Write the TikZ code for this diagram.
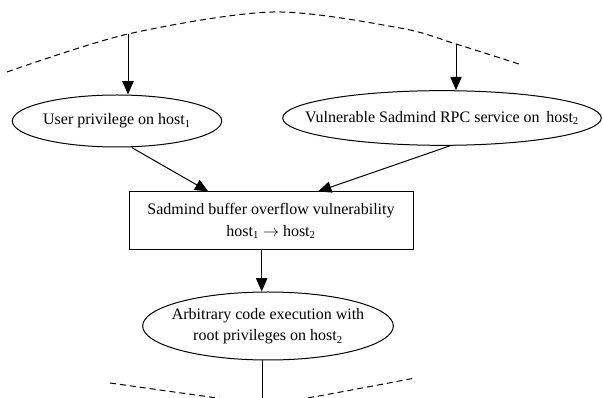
\documentclass[tikz,border=0pt]{standalone}
\usepackage{fontspec}
\setmainfont{Liberation Serif}
\usetikzlibrary{shapes.geometric,arrows.meta,calc}

\tikzset{
  state/.style={ellipse, draw, inner sep=0pt},
  exploit/.style={rectangle, draw, align=center, inner sep=0pt,
                  minimum width=213pt, minimum height=43.5pt},
  cutline/.style={dash pattern=on 4.5pt off 3pt},
}
\newcommand{\inbox}[1]{\makebox[0pt]{#1}}

\begin{document}
\begin{tikzpicture}[x=0.75pt, y=-0.75pt, >={Triangle[length=10pt,width=8.5pt]},
                    line width=0.75pt, font=\fontsize{12}{16}\selectfont]
  \useasboundingbox (0,0) rectangle (603,398);
  \clip (0,0) rectangle (603,398);

  % Cut of the graph above
  \draw[cutline] plot[smooth] coordinates
        {(7,72) (128,34) (273,12) (400,28) (456,44) (522,65)};
  \coordinate (up1) at (128,34);
  \coordinate (up2) at (456,44);

  % Pre-conditions
  \node[state, minimum width=157pt, minimum height=39pt] (user) at (117,121)
        {\inbox{User privilege on host\textsubscript{1}}};
  \node[state, minimum width=239pt, minimum height=41pt] (rpc) at (442,118)
        {\inbox{Vulnerable Sadmind RPC service on\, host\textsubscript{2}}};

  % Exploit
  \node[exploit] (bof) at (271,221)
        {Sadmind buffer overflow vulnerability\\
         host\textsubscript{1} $\rightarrow$ host\textsubscript{2}};

  % Post-condition
  \node[state, minimum width=188pt, minimum height=51pt] (root) at (268,326)
        {\inbox{\begin{tabular}{@{}c@{}}Arbitrary code execution with\\
         root privileges on host\textsubscript{2}\end{tabular}}};

  % Cut of the graph below
  \draw[cutline] plot[smooth] coordinates
        {(110,383) (210,397) (262,404) (313,397) (415,378)};
  \coordinate (down) at (262,405);

  % Edges
  \draw[->] (up1) -- (up1 |- user.north);
  \draw[->] (up2) -- (up2 |- rpc.north);
  \draw[->] ([xshift=11pt]user.south) -- ($(bof.north west)!0.28!(bof.north east)$);
  \draw[->] ([xshift=6pt]rpc.south) -- ($(bof.north west)!0.665!(bof.north east)$);
  \draw[->] ([xshift=-7pt]bof.south) -- ([xshift=-7pt]bof.south |- root.north);
  \draw ([xshift=-4.5pt]root.south) -- (down);
\end{tikzpicture}
\end{document}
